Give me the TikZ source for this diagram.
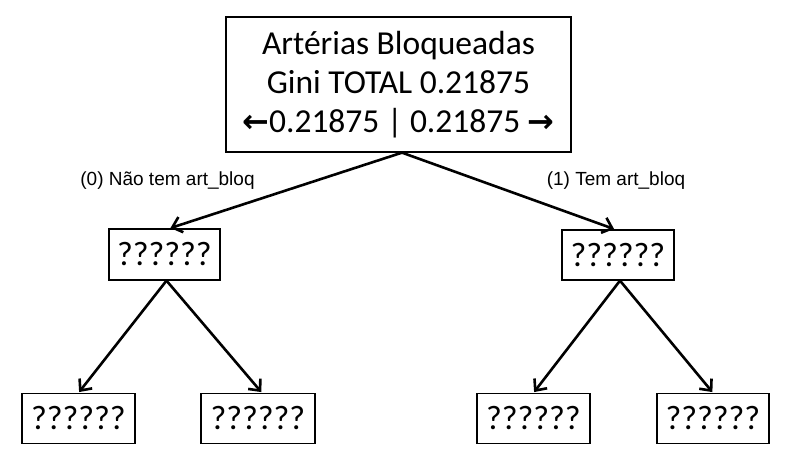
\documentclass[tikz,border=0pt]{standalone}
\usepackage{fontspec}
\setmainfont{Carlito}
\newfontfamily\labelfont{Liberation Sans}
\newfontfamily\symfont{DejaVu Sans}
\usetikzlibrary{arrows.meta}

\begin{document}
\begin{tikzpicture}[x=1pt,y=1pt,
    caixa/.style={draw,line width=1.3pt,inner sep=0pt,minimum height=50pt,minimum width=113pt,font=\fontsize{34}{38}\selectfont},
    seta/.style={line width=2.6pt,-{Straight Barb[length=9pt,width=16pt,line width=2.6pt]},shorten >=1pt},
    rotulo/.style={font=\labelfont\fontsize{19}{22}\selectfont}]
  \useasboundingbox (0,0) rectangle (795,456);
  \node[caixa,minimum width=345pt,minimum height=135pt,align=center,font=\fontsize{33.5}{39}\selectfont] (root) at (398.5,371.5)
    {Artérias Bloqueadas\\Gini TOTAL 0.21875\\{\symfont\bfseries\fontsize{32}{30}\selectfont ←}0.21875 | 0.21875 {\symfont\bfseries\fontsize{32}{30}\selectfont →}};
  \node[caixa,minimum width=111pt,minimum height=51pt] (n0) at (164.5,201.5) {??????};
  \node[caixa,minimum width=112pt] (n1) at (618,201) {??????};
  \node[caixa] (n00) at (78.5,37.5) {??????};
  \node[caixa,minimum width=114pt] (n01) at (258,37.5) {??????};
  \node[caixa] (n10) at (533.5,37.5) {??????};
  \node[caixa,minimum width=112pt] (n11) at (713,37.5) {??????};
  \coordinate (topo) at ([xshift=3.5pt]root.south);
  \draw[seta] (topo) -- ([xshift=5pt]n0.north);
  \draw[seta] (topo) -- ([xshift=-3pt]n1.north);
  \draw[seta] ([xshift=2pt]n0.south) -- (n00.north);
  \draw[seta] ([xshift=2pt]n0.south) -- ([xshift=4pt]n01.north);
  \draw[seta] ([xshift=2pt]n1.south) -- (n10.north);
  \draw[seta] ([xshift=2pt]n1.south) -- (n11.north);
  \node[rotulo] (r0) at (167.5,275) {(0) Não tem art\_bloq};
  \node[rotulo] (r1) at (616,275) {(1) Tem art\_bloq};
\end{tikzpicture}
\end{document}
